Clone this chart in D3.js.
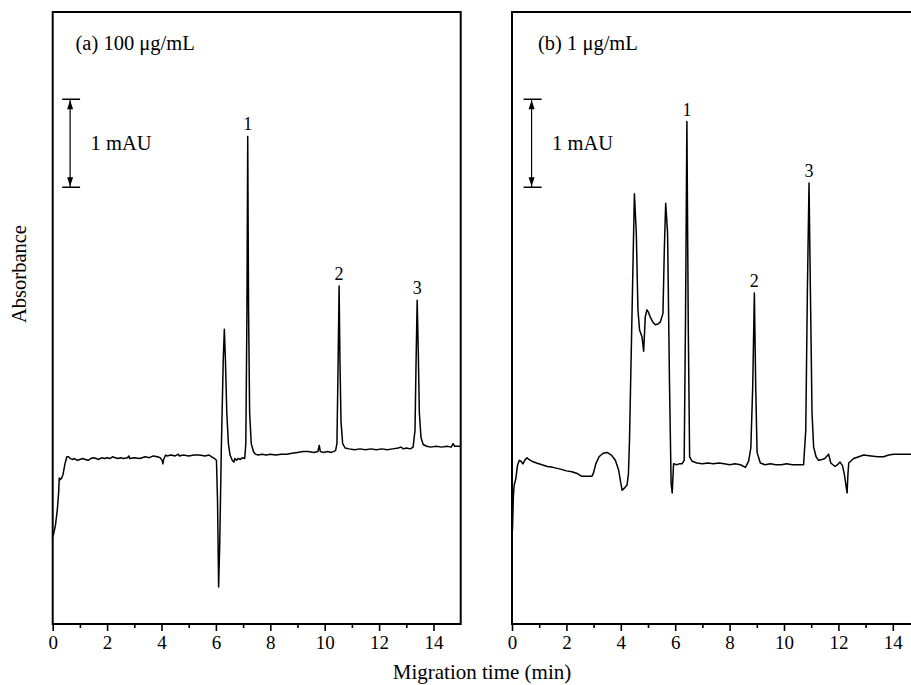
<!DOCTYPE html>
<html>
<head>
<meta charset="utf-8">
<script src="https://cdn.jsdelivr.net/npm/d3@7"></script>
<style>
  html, body { margin: 0; padding: 0; background: #fff; }
  svg { display: block; }
  text { font-family: "Liberation Serif", "Times New Roman", serif; fill: #000; }
</style>
</head>
<body>
<svg id="chart" width="911" height="685"></svg>
<script>
// ---------- Data (migration time in min, absorbance in mAU above an arbitrary offset) ----------
const timeA = [0.00,0.03,0.10,0.17,0.22,0.24,0.28,0.33,0.38,0.45,0.52,0.58,0.65,0.72,0.80,0.90,1.00,1.10,1.20,1.30,1.40,1.50,1.60,1.70,1.80,1.90,2.00,2.10,2.20,2.30,2.40,2.50,2.60,2.75,2.80,2.83,3.00,3.20,3.40,3.55,3.70,3.85,3.95,4.02,4.05,4.08,4.15,4.20,4.35,4.50,4.62,4.65,4.80,5.00,5.20,5.40,5.60,5.75,5.85,5.95,6.02,6.06,6.10,6.14,6.20,6.27,6.31,6.35,6.40,6.46,6.52,6.60,6.66,6.70,6.76,6.82,6.90,6.98,7.06,7.10,7.14,7.17,7.20,7.24,7.30,7.38,7.45,7.55,7.70,7.85,8.00,8.20,8.40,8.60,8.80,9.00,9.20,9.40,9.60,9.75,9.80,9.84,9.95,10.10,10.25,10.40,10.45,10.49,10.53,10.56,10.60,10.66,10.75,10.90,11.10,11.30,11.50,11.70,11.90,12.10,12.30,12.50,12.70,12.80,12.90,13.00,13.15,13.25,13.32,13.36,13.40,13.44,13.48,13.54,13.62,13.75,13.90,14.10,14.30,14.50,14.65,14.72,14.78,14.90,15.00];
const absA  = [0.99,1.02,1.12,1.30,1.50,1.66,1.64,1.66,1.70,1.82,1.90,1.90,1.88,1.87,1.88,1.86,1.87,1.88,1.87,1.86,1.88,1.89,1.88,1.87,1.89,1.88,1.89,1.88,1.90,1.89,1.88,1.89,1.88,1.89,1.91,1.88,1.89,1.88,1.90,1.89,1.91,1.90,1.89,1.86,1.82,1.87,1.92,1.91,1.92,1.91,1.93,1.91,1.92,1.91,1.92,1.92,1.91,1.92,1.90,1.88,1.86,1.40,0.42,0.90,2.00,3.00,3.35,3.00,2.40,2.05,1.92,1.86,1.84,1.88,1.86,1.88,1.87,1.89,1.88,2.05,3.50,5.54,3.60,2.40,2.05,1.96,1.93,1.92,1.93,1.92,1.93,1.92,1.93,1.93,1.94,1.95,1.96,1.96,1.95,1.96,2.03,1.96,1.95,1.96,1.95,1.97,2.05,2.90,3.84,3.00,2.30,2.05,2.00,1.99,1.98,1.99,1.98,1.99,1.98,1.99,1.98,1.99,2.00,2.01,1.99,2.00,1.99,2.01,2.20,3.00,3.68,3.10,2.40,2.12,2.04,2.02,2.01,2.02,2.01,2.02,2.01,2.05,2.02,2.02,2.02];

const timeB = [0.00,0.02,0.05,0.08,0.14,0.20,0.27,0.33,0.40,0.47,0.55,0.62,0.73,0.90,1.10,1.30,1.50,1.78,2.00,2.20,2.40,2.55,2.80,2.94,3.00,3.08,3.20,3.35,3.50,3.65,3.80,3.92,4.00,4.05,4.15,4.23,4.28,4.32,4.41,4.50,4.57,4.63,4.69,4.78,4.84,4.90,4.96,5.02,5.08,5.18,5.27,5.37,5.45,5.55,5.60,5.65,5.72,5.79,5.85,5.89,5.94,6.05,6.15,6.25,6.33,6.38,6.43,6.48,6.53,6.62,6.80,7.00,7.20,7.40,7.60,7.80,8.00,8.20,8.40,8.58,8.70,8.78,8.85,8.91,8.96,9.01,9.13,9.30,9.50,9.70,9.90,10.10,10.30,10.50,10.72,10.80,10.86,10.92,10.97,11.03,11.09,11.18,11.27,11.40,11.50,11.64,11.72,11.88,12.00,12.06,12.15,12.22,12.29,12.32,12.35,12.38,12.56,12.75,12.93,13.20,13.45,13.66,13.85,14.03,14.30,14.66,15.00];
const absB  = [0.99,1.10,1.45,1.58,1.65,1.80,1.86,1.85,1.82,1.86,1.89,1.87,1.85,1.83,1.81,1.79,1.78,1.76,1.74,1.73,1.71,1.68,1.68,1.68,1.72,1.82,1.90,1.94,1.95,1.92,1.86,1.75,1.60,1.52,1.55,1.58,1.70,2.09,3.49,4.89,4.44,3.57,3.34,3.26,3.10,3.49,3.57,3.54,3.49,3.43,3.40,3.41,3.43,3.53,4.25,4.78,4.44,2.74,1.60,1.49,1.82,1.81,1.82,1.82,1.86,3.50,5.71,3.40,1.90,1.85,1.83,1.82,1.83,1.82,1.83,1.82,1.81,1.82,1.81,1.78,1.85,2.00,2.70,3.76,2.70,1.95,1.83,1.81,1.82,1.81,1.81,1.82,1.81,1.81,1.81,2.20,3.80,5.01,3.80,2.40,2.01,1.90,1.86,1.87,1.88,1.93,1.83,1.79,1.82,1.84,1.80,1.70,1.55,1.49,1.70,1.83,1.88,1.90,1.92,1.91,1.90,1.90,1.92,1.93,1.93,1.93,1.93];

const xTicksMajor = [0, 2, 4, 6, 8, 10, 12, 14];
const xTicksMinor = [1, 3, 5, 7, 9, 11, 13];
const panelLabels = ["(a) 100 \u03bcg/mL", "(b) 1 \u03bcg/mL"];
const peakNames = ["1", "2", "3"];
const peakTimesA = [7.17, 10.53, 13.40];
const peakTopsA = [5.54, 3.84, 3.68];
const peakTimesB = [6.43, 8.91, 10.92];
const peakTopsB = [5.71, 3.76, 5.01];
const scaleBarLabel = "1 mAU";
const xTitle = "Migration time (min)";
const yTitle = "Absorbance";

// ---------- Layout ----------
const svg = d3.select("#chart");
const plotTop = 12, plotBottom = 624;
const pxPerMin = 27.2;
const yDomain = [0, (plotBottom - plotTop) / 88];

const panels = [
  { left: 52.7, times: timeA, abs: absA, label: panelLabels[0], pkT: peakTimesA, pkV: peakTopsA, barT: 0.64, labelX: 75.5 },
  { left: 512, times: timeB, abs: absB, label: panelLabels[1], pkT: peakTimesB, pkV: peakTopsB, barT: 0.72, labelX: 538 }
];

panels.forEach(p => {
  const x = d3.scaleLinear().domain([0, 15]).range([p.left, p.left + 15 * pxPerMin]);
  const y = d3.scaleLinear().domain(yDomain).range([plotBottom, plotTop]);
  const g = svg.append("g");

  // minor ticks
  g.append("g").attr("transform", `translate(0,${plotBottom})`)
    .call(d3.axisBottom(x).tickValues(xTicksMinor).tickSize(4).tickFormat(""))
    .call(a => a.select(".domain").remove())
    .call(a => a.selectAll("line").attr("stroke", "#000").attr("stroke-width", 1.6));

  // major ticks
  const ax = g.append("g").attr("transform", `translate(0,${plotBottom})`)
    .call(d3.axisBottom(x).tickValues(xTicksMajor).tickSize(7).tickPadding(5).tickFormat(d3.format("d")));
  ax.attr("font-size", null).attr("font-family", null);
  ax.select(".domain").remove();
  ax.selectAll("line").attr("stroke", "#000").attr("stroke-width", 1.6);
  ax.selectAll("text")
    .style("font-size", "19px")
    .style("font-family", "'Liberation Serif', serif")
    .style("fill", "#000");

  // frame
  g.append("rect")
    .attr("x", x(0)).attr("y", plotTop)
    .attr("width", x(15) - x(0)).attr("height", plotBottom - plotTop)
    .attr("fill", "none").attr("stroke", "#000").attr("stroke-width", 2);

  // trace
  const data = p.times.map((t, i) => [t, p.abs[i]]);
  g.append("path").datum(data)
    .attr("fill", "none").attr("stroke", "#000").attr("stroke-width", 1.5)
    .attr("stroke-linejoin", "round")
    .attr("d", d3.line().x(d => x(d[0])).y(d => y(d[1])));

  // panel label
  g.append("text").attr("x", p.labelX).attr("y", 50)
    .style("font-size", "20.5px").text(p.label);

  // peak labels
  p.pkT.forEach((t, i) => {
    g.append("text").attr("x", x(t)).attr("y", y(p.pkV[i]) - 6)
      .attr("text-anchor", "middle").style("font-size", "18px").text(peakNames[i]);
  });

  // scale bar (1 mAU)
  const bx = x(p.barT);
  const yTopBar = y(5.963), yBotBar = y(4.963);
  const sb = g.append("g").attr("stroke", "#000").attr("fill", "#000");
  sb.append("line").attr("x1", bx).attr("x2", bx).attr("y1", yTopBar).attr("y2", yBotBar).attr("stroke-width", 1.2);
  sb.append("line").attr("x1", bx - 8).attr("x2", bx + 10).attr("y1", yTopBar).attr("y2", yTopBar).attr("stroke-width", 1.5);
  sb.append("line").attr("x1", bx - 8).attr("x2", bx + 10).attr("y1", yBotBar).attr("y2", yBotBar).attr("stroke-width", 1.5);
  sb.append("path").attr("stroke", "none")
    .attr("d", `M${bx},${yTopBar + 1}L${bx - 3},${yTopBar + 10}L${bx + 3},${yTopBar + 10}Z`);
  sb.append("path").attr("stroke", "none")
    .attr("d", `M${bx},${yBotBar - 1}L${bx - 3},${yBotBar - 10}L${bx + 3},${yBotBar - 10}Z`);
  g.append("text").attr("x", bx + 20.5).attr("y", (yTopBar + yBotBar) / 2 + 7)
    .style("font-size", "20.5px").text(scaleBarLabel);
});

// axis titles
svg.append("text").attr("x", 482).attr("y", 679).attr("text-anchor", "middle")
  .style("font-size", "21px").text(xTitle);
svg.append("text").attr("transform", "translate(26,274) rotate(-90)")
  .attr("text-anchor", "middle").style("font-size", "20.5px").text(yTitle);
</script>
</body>
</html>
